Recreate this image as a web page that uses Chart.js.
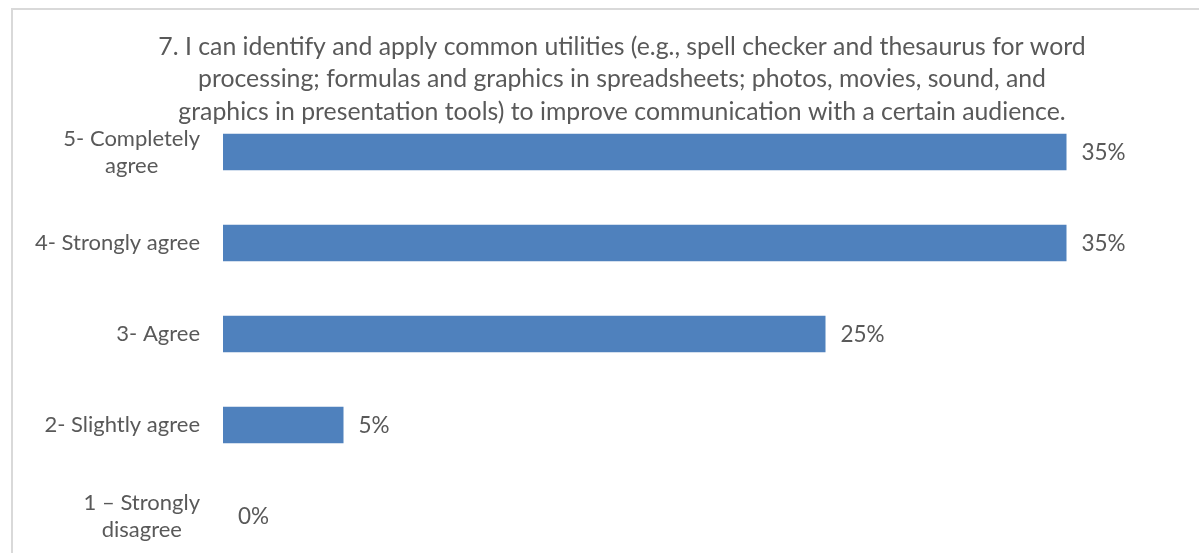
<!DOCTYPE html>
<html>
<head>
<meta charset="utf-8">
<script src="https://cdn.jsdelivr.net/npm/chart.js@4.4.1/dist/chart.umd.min.js"></script>
<style>
  html, body { margin: 0; padding: 0; background: #ffffff; overflow: hidden; }
  #wrap { position: relative; width: 1199px; height: 553px; overflow: hidden; }
  #frame { position: absolute; left: 11px; top: 8px; width: 1300px; height: 700px;
           border-left: 2px solid #d9d9d9; border-top: 2px solid #d9d9d9; }
  #box { position: absolute; left: 0; top: 0; width: 1199px; height: 580px; }
</style>
</head>
<body>
<div id="wrap">
  <div id="frame"></div>
  <div id="box"><canvas id="chart"></canvas></div>
</div>
<script>
// Survey responses for item 7
const titleLines = [
  "7. I can identify and apply common utilities (e.g., spell checker and thesaurus for word",
  "processing; formulas and graphics in spreadsheets; photos, movies, sound, and",
  "graphics in presentation tools) to improve communication with a certain audience."
];
const categories = [
  ["5- Completely", "agree"],
  ["4- Strongly agree"],
  ["3- Agree"],
  ["2- Slightly agree"],
  ["1 \u2013 Strongly", "disagree"]
];
const percentages = [35, 35, 25, 5, 0];
const axisMax = 40;

const FONT = "Lato, 'Open Sans', sans-serif";
const TEXT = "#595959";

// Title, category labels and value labels drawn on the canvas
const textPlugin = {
  id: "surveyText",
  afterDatasetsDraw(chart) {
    const ctx = chart.ctx;
    const area = chart.chartArea;
    const y = chart.scales.y;
    ctx.save();
    ctx.fillStyle = TEXT;
    ctx.textBaseline = "middle";

    // title
    ctx.font = "24.8px " + FONT;
    ctx.textAlign = "center";
    titleLines.forEach((line, i) => ctx.fillText(line, 622, 47 + i * 32.5));

    // category labels: block right-aligned to the axis, lines centred within the block
    ctx.font = "22px " + FONT;
    const right = area.left - 23;
    categories.forEach((lines, i) => {
      const cy = y.getPixelForValue(i);
      const widths = lines.map(l => ctx.measureText(l).width);
      const w = Math.max(...widths);
      const cx = right - w / 2;
      const lh = 27;
      const top = cy - (lines.length - 1) * lh / 2;
      ctx.textAlign = "center";
      lines.forEach((l, j) => ctx.fillText(l, cx, top + j * lh));
    });

    // value labels after each bar
    ctx.font = "22.5px " + FONT;
    ctx.textAlign = "left";
    const meta = chart.getDatasetMeta(0);
    meta.data.forEach((bar, i) => {
      ctx.fillText(percentages[i] + "%", bar.x + 15, bar.y + 1);
    });
    ctx.restore();
  }
};

new Chart(document.getElementById("chart"), {
  type: "bar",
  data: {
    labels: categories,
    datasets: [{
      data: percentages,
      backgroundColor: "#4F81BD",
      borderWidth: 0,
      categoryPercentage: 0.8,
      barPercentage: 0.5
    }]
  },
  options: {
    indexAxis: "y",
    responsive: true,
    maintainAspectRatio: false,
    animation: false,
    layout: { padding: { left: 223, right: 12, top: 106.5, bottom: 18.5 } },
    plugins: {
      legend: { display: false },
      title: { display: false },
      tooltip: { enabled: false }
    },
    scales: {
      x: { display: false, min: 0, max: axisMax },
      y: { display: false, offset: true, grid: { display: false } }
    }
  },
  plugins: [textPlugin]
});
</script>
</body>
</html>
